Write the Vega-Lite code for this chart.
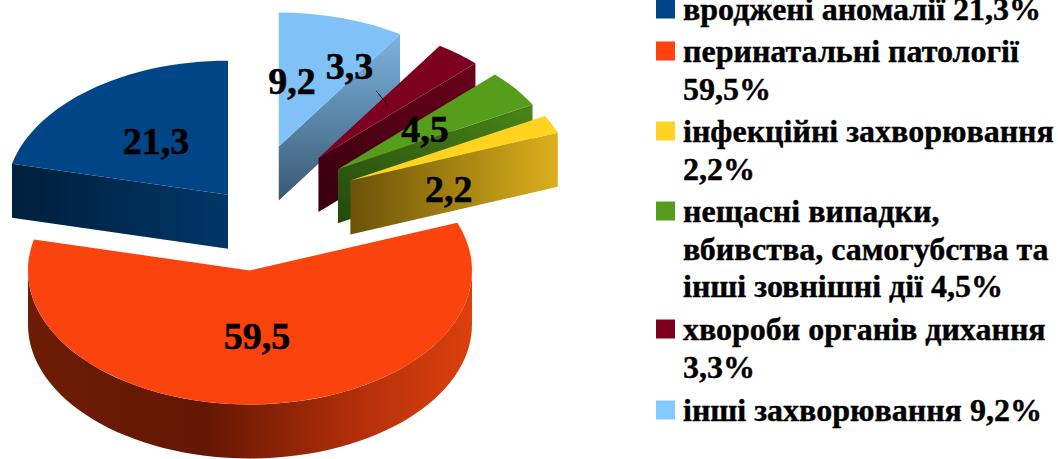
{
"$schema":"https://vega.github.io/schema/vega-lite/v6.json",
"width":1058,"height":459,"padding":0,"autosize":{"type":"none"},
"background":"white","view":{"stroke":null},
"datasets":{
"slices":[
{"slice":"інші захворювання","order":1,"value":9.2,"explode":115},
{"slice":"хвороби органів дихання","order":2,"value":3.3,"explode":115},
{"slice":"нещасні випадки","order":3,"value":4.5,"explode":115},
{"slice":"інфекційні захворювання","order":4,"value":2.2,"explode":115},
{"slice":"перинатальні патології","order":5,"value":59.5,"explode":115},
{"slice":"вроджені аномалії","order":6,"value":21.3,"explode":29}
],
"legend":[
{"line":0,"text":"вроджені аномалії 21,3%","slice":"вроджені аномалії"},
{"line":1,"text":"перинатальні патології","slice":"перинатальні патології"},
{"line":2,"text":"59,5%"},
{"line":3,"text":"інфекційні захворювання","slice":"інфекційні захворювання"},
{"line":4,"text":"2,2%"},
{"line":5,"text":"нещасні випадки,","slice":"нещасні випадки"},
{"line":6,"text":"вбивства, самогубства та"},
{"line":7,"text":"інші зовнішні дії 4,5%"},
{"line":8,"text":"хвороби органів дихання","slice":"хвороби органів дихання"},
{"line":9,"text":"3,3%"},
{"line":10,"text":"інші захворювання 9,2%","slice":"інші захворювання"}
]},
"resolve":{"scale":{"y":"independent"}},
"layer":[
{"data":{"name":"slices"},
"transform":[
{"window":[{"op":"sum","field":"value","as":"cum"}],"sort":[{"field":"order"}]},
{"calculate":"2*PI*(datum.cum-datum.value)/100","as":"a0"},
{"calculate":"2*PI*datum.cum/100","as":"a1"},
{"calculate":"(datum.a0+datum.a1)/2","as":"m"},
{"calculate":"246+datum.explode*sin(datum.m)","as":"ax"},
{"calculate":"207.2-0.551*datum.explode*cos(datum.m)","as":"ay"},
{"calculate":"round(22200*sin(datum.a0))/100","as":"x0"},
{"calculate":"round(-13400*cos(datum.a0))/100","as":"y0"},
{"calculate":"round(22200*sin(datum.a1))/100","as":"x1"},
{"calculate":"round(-13400*cos(datum.a1))/100","as":"y1"},
{"calculate":"'M0 0L'+datum.x0+' '+datum.y0+'A222 134 0 '+(datum.a1-datum.a0>PI?1:0)+' 1 '+datum.x1+' '+datum.y1+'Z'","as":"topPath"},
{"calculate":"'M0 0L'+datum.x1+' '+datum.y1+'L'+datum.x1+' '+(datum.y1+54)+'L0 54Z'","as":"endCut"},
{"calculate":"'M0 0L'+datum.x0+' '+datum.y0+'L'+datum.x0+' '+(datum.y0+54)+'L0 54Z'","as":"startCut"},
{"calculate":"'M222 0A222 134 0 0 1 -222 0L-222 54A222 134 0 0 0 222 54Z'","as":"rim"},
{"calculate":"datum.ax+133.2*sin(datum.m)","as":"lx"},
{"calculate":"datum.ay-80.4*cos(datum.m)","as":"ly"},
{"calculate":"replace(''+datum.value,'.',',')","as":"label"}
],
"encoding":{
"x":{"field":"ax","type":"quantitative","axis":null,"scale":{"domain":[0,1058],"range":[0,1058],"nice":false,"zero":false}},
"y":{"field":"ay","type":"quantitative","axis":null,"scale":{"domain":[0,459],"range":[0,459],"nice":false,"zero":false}}
},
"layer":[
{"transform":[{"filter":"datum.order==1"}],"mark":{"type":"point","filled":true,"opacity":1,"size":4,"strokeWidth":0,"fill":{"gradient":"linear","x1":0,"y1":0,"x2":0,"y2":1,"stops":[{"offset":0,"color":"#7CB4E2"},{"offset":1,"color":"#3A5870"}]}},"encoding":{"shape":{"field":"endCut","type":"nominal","scale":null}}},
{"transform":[{"filter":"datum.order==1"}],"mark":{"type":"point","filled":true,"opacity":1,"size":4,"strokeWidth":0,"fill":"#80C1F8"},"encoding":{"shape":{"field":"topPath","type":"nominal","scale":null}}},
{"transform":[{"filter":"datum.order==2"}],"mark":{"type":"point","filled":true,"opacity":1,"size":4,"strokeWidth":0,"fill":{"gradient":"linear","x1":0,"y1":1,"x2":1,"y2":0,"stops":[{"offset":0,"color":"#38000F"},{"offset":1,"color":"#6A001C"}]}},"encoding":{"shape":{"field":"endCut","type":"nominal","scale":null}}},
{"transform":[{"filter":"datum.order==2"}],"mark":{"type":"point","filled":true,"opacity":1,"size":4,"strokeWidth":0,"fill":"#7E0021"},"encoding":{"shape":{"field":"topPath","type":"nominal","scale":null}}},
{"transform":[{"filter":"datum.order==3"}],"mark":{"type":"point","filled":true,"opacity":1,"size":4,"strokeWidth":0,"fill":{"gradient":"linear","x1":0,"y1":1,"x2":1,"y2":0,"stops":[{"offset":0,"color":"#234A0C"},{"offset":1,"color":"#4A8518"}]}},"encoding":{"shape":{"field":"endCut","type":"nominal","scale":null}}},
{"transform":[{"filter":"datum.order==3"}],"mark":{"type":"point","filled":true,"opacity":1,"size":4,"strokeWidth":0,"fill":"#579D1C"},"encoding":{"shape":{"field":"topPath","type":"nominal","scale":null}}},
{"transform":[{"filter":"datum.order==4"}],"mark":{"type":"point","filled":true,"opacity":1,"size":4,"strokeWidth":0,"fill":{"gradient":"linear","x1":0,"y1":0,"x2":1,"y2":0,"stops":[{"offset":0,"color":"#6B5208"},{"offset":1,"color":"#DCB01C"}]}},"encoding":{"shape":{"field":"endCut","type":"nominal","scale":null}}},
{"transform":[{"filter":"datum.order==4"}],"mark":{"type":"point","filled":true,"opacity":1,"size":4,"strokeWidth":0,"fill":"#FFD320"},"encoding":{"shape":{"field":"topPath","type":"nominal","scale":null}}},
{"transform":[{"filter":"datum.order==6"}],"mark":{"type":"point","filled":true,"opacity":1,"size":4,"strokeWidth":0,"fill":{"gradient":"linear","x1":0,"y1":0,"x2":1,"y2":0,"stops":[{"offset":0,"color":"#001F3C"},{"offset":1,"color":"#003768"}]}},"encoding":{"shape":{"field":"startCut","type":"nominal","scale":null}}},
{"transform":[{"filter":"datum.order==6"}],"mark":{"type":"point","filled":true,"opacity":1,"size":4,"strokeWidth":0,"fill":"#004586"},"encoding":{"shape":{"field":"topPath","type":"nominal","scale":null}}},
{"transform":[{"filter":"datum.order==5"}],"mark":{"type":"point","filled":true,"opacity":1,"size":4,"strokeWidth":0,"xOffset":-3.6,"fill":{"gradient":"linear","x1":0,"y1":0,"x2":1,"y2":0,"stops":[{"offset":0,"color":"#6E1C04"},{"offset":0.4,"color":"#641703"},{"offset":0.75,"color":"#B5300A"},{"offset":1,"color":"#DC400E"}]}},"encoding":{"shape":{"field":"rim","type":"nominal","scale":null}}},
{"transform":[{"filter":"datum.order==5"}],"mark":{"type":"point","filled":true,"opacity":1,"size":4,"strokeWidth":0,"xOffset":-3.6,"fill":"#FA430D"},"encoding":{"shape":{"field":"topPath","type":"nominal","scale":null}}},
{"transform":[{"filter":"datum.order==2"},{"calculate":"datum.lx-26","as":"p1x"},{"calculate":"datum.ly-4.5","as":"p1y"},{"calculate":"datum.lx-14","as":"p2x"},{"calculate":"datum.ly+10.5","as":"p2y"}],"mark":{"type":"rule","color":"black","strokeWidth":1},"encoding":{"x":{"field":"p1x","type":"quantitative"},"y":{"field":"p1y","type":"quantitative"},"x2":{"field":"p2x"},"y2":{"field":"p2y"}}},
{"transform":[{"filter":"datum.order==6"}],"mark":{"type":"text","font":"Liberation Serif","fontWeight":"bold","fontSize":38,"color":"black","stroke":"black","strokeWidth":0.5,"baseline":"middle","dx":10.6,"dy":11.3},"encoding":{"x":{"field":"lx","type":"quantitative"},"y":{"field":"ly","type":"quantitative"},"text":{"field":"label"}}},
{"transform":[{"filter":"datum.order==5"}],"mark":{"type":"text","font":"Liberation Serif","fontWeight":"bold","fontSize":38,"color":"black","stroke":"black","strokeWidth":0.5,"baseline":"middle","dx":-5.4,"dy":-12.6},"encoding":{"x":{"field":"lx","type":"quantitative"},"y":{"field":"ly","type":"quantitative"},"text":{"field":"label"}}},
{"transform":[{"filter":"datum.order==1"}],"mark":{"type":"text","font":"Liberation Serif","fontWeight":"bold","fontSize":38,"color":"black","stroke":"black","strokeWidth":0.5,"baseline":"middle","dx":-24.8,"dy":13.7},"encoding":{"x":{"field":"lx","type":"quantitative"},"y":{"field":"ly","type":"quantitative"},"text":{"field":"label"}}},
{"transform":[{"filter":"datum.order==2"}],"mark":{"type":"text","font":"Liberation Serif","fontWeight":"bold","fontSize":38,"color":"black","stroke":"black","strokeWidth":0.5,"baseline":"middle","dx":-53,"dy":-27.5},"encoding":{"x":{"field":"lx","type":"quantitative"},"y":{"field":"ly","type":"quantitative"},"text":{"field":"label"}}},
{"transform":[{"filter":"datum.order==3"}],"mark":{"type":"text","font":"Liberation Serif","fontWeight":"bold","fontSize":38,"color":"black","stroke":"black","strokeWidth":0.5,"baseline":"middle","dx":-19.6,"dy":10},"encoding":{"x":{"field":"lx","type":"quantitative"},"y":{"field":"ly","type":"quantitative"},"text":{"field":"label"}}},
{"transform":[{"filter":"datum.order==4"}],"mark":{"type":"text","font":"Liberation Serif","fontWeight":"bold","fontSize":38,"color":"black","stroke":"black","strokeWidth":0.5,"baseline":"middle","dx":-22.4,"dy":44},"encoding":{"x":{"field":"lx","type":"quantitative"},"y":{"field":"ly","type":"quantitative"},"text":{"field":"label"}}}
]},
{"data":{"name":"legend"},
"transform":[{"calculate":"683","as":"tx"},{"calculate":"665.5","as":"sx"}],
"encoding":{
"y":{"field":"line","type":"quantitative","axis":null,"scale":{"domain":[0,1,2,3,4,5,6,7,8,9,10],"range":[20,62,100,142,180,222,260,297,340,378,421],"nice":false,"zero":false}}
},
"layer":[
{"mark":{"type":"text","font":"Liberation Serif","fontWeight":"bold","fontSize":32,"color":"black","stroke":"black","strokeWidth":0.4,"align":"left","baseline":"alphabetic"},"encoding":{"x":{"field":"tx","type":"quantitative"},"text":{"field":"text"}}},
{"transform":[{"filter":"isValid(datum.slice)"}],"mark":{"type":"square","size":361,"opacity":1,"filled":true,"yOffset":-11,"strokeWidth":0},"encoding":{"x":{"field":"sx","type":"quantitative"},"color":{"field":"slice","type":"nominal","legend":null,"scale":{"domain":["вроджені аномалії","перинатальні патології","інфекційні захворювання","нещасні випадки","хвороби органів дихання","інші захворювання"],"range":["#004586","#FF420E","#FFD320","#579D1C","#7E0021","#83CAFF"]}}}}
]}
]}
